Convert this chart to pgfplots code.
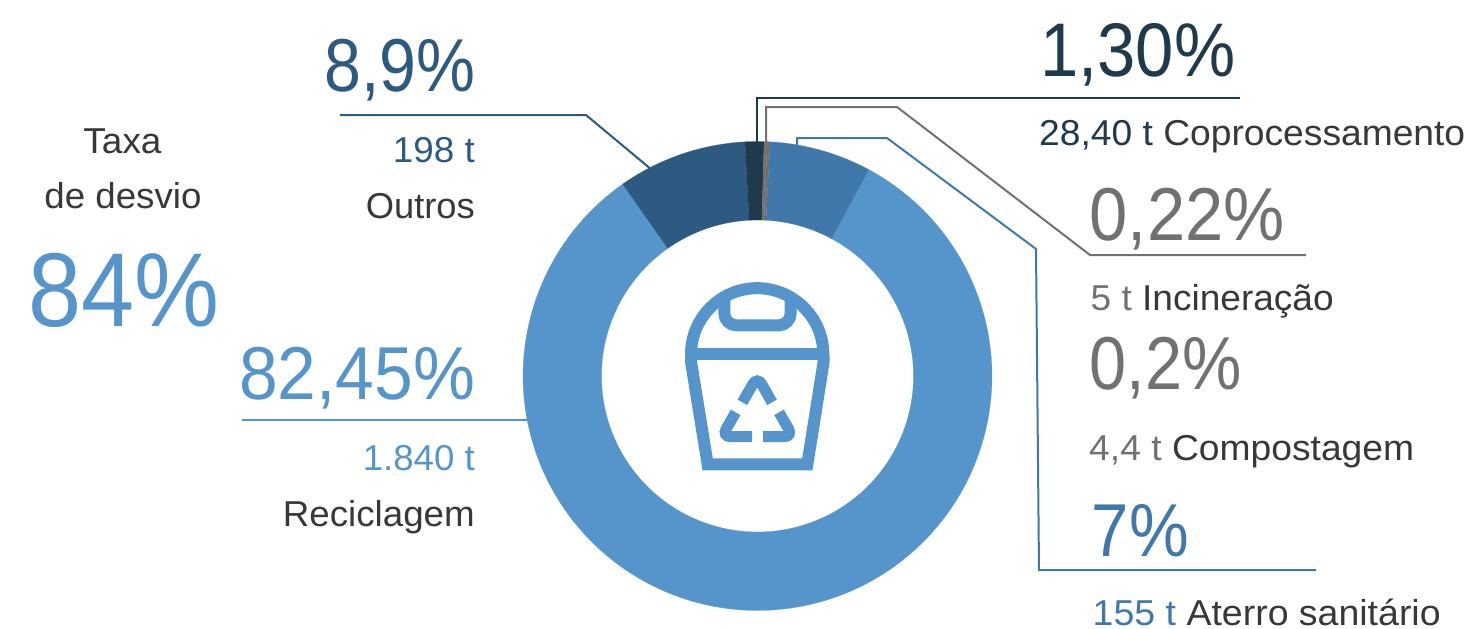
\documentclass[border=0pt]{standalone}
\usepackage{pgfplots}
\usepackage{pgfplotstable}
\usepackage{fontspec}
\pgfplotsset{compat=1.18}
\setmainfont{Liberation Sans}
\definecolor{recic}{HTML}{5595CB}
\definecolor{outros}{HTML}{2D5A81}
\definecolor{coproc}{HTML}{1F3A4C}
\definecolor{cinza}{HTML}{737071}
\definecolor{aterro}{HTML}{4178AB}
\definecolor{rotulo}{HTML}{38383A}

\pgfplotstableread{
nome         valor  cor
Reciclagem   82.45  recic
Outros       8.9    outros
Coproc       1.30   coproc
Incineracao  0.22   cinza
Compostagem  0.2    cinza
Aterro       7      aterro
}\residuos

\def\cx{757.5}\def\cy{376}\def\rext{234.5}\def\rint{156}
\def\somavalores{100.07}

% ancora, tamanho da fonte, posicao da linha de base, largura final, conteudo
\newcommand{\texto}[5]{\node[anchor=base #1,font=\fontsize{#2}{#2}\selectfont,inner sep=0pt] at (axis cs:#3) {\resizebox{#4pt}{\height}{#5}};}

\begin{document}
\begin{tikzpicture}
\begin{axis}[
  scale only axis, width=1476pt, height=629pt,
  xmin=0, xmax=1476, ymin=0, ymax=629, y dir=reverse,
  hide axis, clip=false]

\path[use as bounding box] (axis cs:0,0) rectangle (axis cs:1476,629);

% anel: cada setor sai do valor da tabela, no sentido horario a partir de 28,3 graus
\pgfplotstablegetrowsof{\residuos}
\pgfmathtruncatemacro\ultimalinha{\pgfplotsretval-1}
\gdef\angatual{28.3}
\pgfplotsforeachungrouped \i in {0,...,\ultimalinha}{%
  \pgfplotstablegetelem{\i}{valor}\of{\residuos}\let\val\pgfplotsretval
  \pgfplotstablegetelem{\i}{cor}\of{\residuos}\let\corsetor\pgfplotsretval
  \pgfmathsetmacro\angfim{\angatual+\val/\somavalores*360}
  \pgfmathtruncatemacro\passos{max(2,ceil((\angfim-\angatual)/1.5))}
  \pgfmathsetmacro\dang{(\angfim-\angatual)/\passos}
  \gdef\contorno{}
  \foreach \k in {0,...,\passos}{%
    \pgfmathsetmacro\ang{\angatual+\dang*\k}
    \pgfmathsetmacro\px{\cx+\rext*sin(\ang)}
    \pgfmathsetmacro\py{\cy-\rext*cos(\ang)}
    \xdef\contorno{\contorno(\px,\py)}
  }
  \foreach \k in {\passos,...,0}{%
    \pgfmathsetmacro\ang{\angatual+\dang*\k}
    \pgfmathsetmacro\px{\cx+\rint*sin(\ang)}
    \pgfmathsetmacro\py{\cy-\rint*cos(\ang)}
    \xdef\contorno{\contorno(\px,\py)}
  }
  \edef\plotsetor{\noexpand\addplot[fill=\corsetor,draw=\corsetor,line width=0.2pt,no marks] coordinates {\contorno} -- cycle;}
  \plotsetor
  \global\let\angatual\angfim
}

% linhas de chamada
\addplot[outros,line width=2pt,no marks] coordinates {(340,115)(586,115)(652,170)};
\addplot[coproc,line width=2pt,no marks] coordinates {(1240,98)(757,98)(757,143)};
\addplot[cinza,line width=2pt,no marks] coordinates {(766,143)(766,107)(897,107)(1090,255)(1306,255)};
\addplot[aterro,line width=2pt,no marks] coordinates {(797,146)(797,138)(887,138)(1036,249)(1039,570)(1316,570)};
\addplot[recic,line width=2pt,no marks] coordinates {(242,420)(527,420)};

% icone da lixeira
\begin{scope}[shift={(axis cs:670,270)},x=0.33333pt,y=-0.33333pt,color=recic]
  \draw[line width=12pt] (63,253) arc[start angle=180,end angle=360,radius=198.5];
  \draw[line width=12pt] (47,253) -- (477,253);
  \draw[line width=12pt,line join=miter] (63,253) -- (63,275) -- (113,583) -- (412,583) -- (461,275) -- (461,253);
  \draw[line width=12pt,rounded corners=12pt] (163,80) -- (163,166) -- (362,166) -- (362,80);
  \draw[line width=11pt,rounded corners=9pt] (217,397) -- (262,319) -- (306,397);
  \draw[line width=11pt,rounded corners=9pt] (197,427) -- (155,500) -- (246,500);
  \draw[line width=11pt,rounded corners=9pt] (327,427) -- (369,500) -- (279,500);
\end{scope}

% textos
\texto{west}{75}{324,91.5}{151}{\textcolor{outros}{8,9\%}}
\texto{west}{105}{28,326}{191}{\textcolor{recic}{84\%}}
\texto{west}{75}{239,399}{236}{\textcolor{recic}{82,45\%}}
\texto{west}{76}{1040,76}{195}{\textcolor{coproc}{1,30\%}}
\texto{west}{75}{1089.5,240}{195}{\textcolor{cinza}{0,22\%}}
\texto{west}{75}{1089.5,389}{152}{\textcolor{cinza}{0,2\%}}
\texto{west}{75}{1091.5,556}{97}{\textcolor{aterro}{7\%}}
\texto{east}{36}{475,162}{82}{\textcolor{outros}{198 t}}
\texto{east}{36}{475,218}{109}{\textcolor{rotulo}{Outros}}
\texto{}{36}{122.5,153}{78}{\textcolor{rotulo}{Taxa}}
\texto{}{36}{123,208}{157}{\textcolor{rotulo}{de desvio}}
\texto{east}{36}{475,470}{112}{\textcolor{recic}{1.840 t}}
\texto{east}{36}{475,526}{192}{\textcolor{rotulo}{Reciclagem}}
\texto{west}{36}{1039,145}{426}{\textcolor{coproc}{28,40 t} \textcolor{rotulo}{Coprocessamento}}
\texto{west}{36}{1090.5,310}{243}{\textcolor{cinza}{5 t} \textcolor{rotulo}{Incineração}}
\texto{west}{36}{1089,460}{325}{\textcolor{cinza}{4,4 t} \textcolor{rotulo}{Compostagem}}
\texto{west}{36}{1092.5,625}{348}{\textcolor{aterro}{155 t} \textcolor{rotulo}{Aterro sanitário}}
\end{axis}
\end{tikzpicture}
\end{document}
